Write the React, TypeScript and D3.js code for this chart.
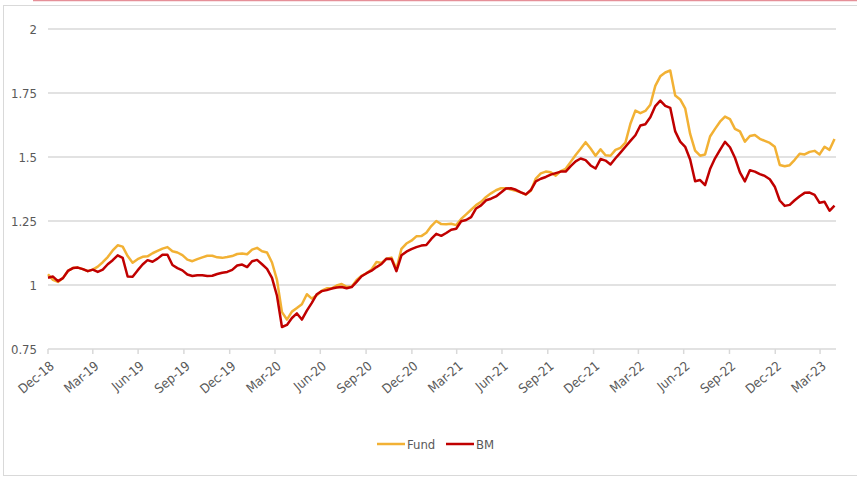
import React, { useEffect, useRef } from 'react';
import * as d3 from 'd3';

// fund vs benchmark, one reading every 10 days from 31 Dec 2018
const startDate = '2018-12-31';
const endDate = '2023-05-02';
const stepDays = 10;

const fund = [
  1.042, 1.02, 1.012, 1.027, 1.055, 1.066, 1.068, 1.062, 1.054, 1.06,
  1.072, 1.089, 1.109, 1.135, 1.155, 1.15, 1.113, 1.087, 1.101, 1.11,
  1.112, 1.124, 1.133, 1.142, 1.148, 1.132, 1.127, 1.117, 1.099, 1.093,
  1.101, 1.108, 1.114, 1.114, 1.108, 1.106, 1.109, 1.113, 1.121, 1.123,
  1.12, 1.138, 1.145, 1.132, 1.127, 1.088, 1.02, 0.894, 0.865, 0.896,
  0.91, 0.925, 0.964, 0.947, 0.96, 0.978, 0.987, 0.987, 0.998, 1.004,
  0.993, 0.993, 1.02, 1.036, 1.046, 1.061, 1.09, 1.086, 1.103, 1.107,
  1.062, 1.141, 1.162, 1.173, 1.19, 1.191, 1.204, 1.23, 1.25, 1.238,
  1.237, 1.239, 1.234, 1.258, 1.276, 1.294, 1.312, 1.325, 1.344, 1.358,
  1.37, 1.378, 1.378, 1.373, 1.368, 1.362, 1.353, 1.368, 1.416, 1.436,
  1.443, 1.44, 1.427, 1.445, 1.454, 1.481, 1.508, 1.532, 1.558, 1.533,
  1.505, 1.53, 1.507, 1.505, 1.528, 1.536, 1.556, 1.63, 1.681, 1.671,
  1.68, 1.704, 1.778, 1.815, 1.83, 1.838, 1.74, 1.725, 1.69, 1.59,
  1.525, 1.505, 1.51, 1.58, 1.61, 1.638, 1.658, 1.648, 1.61, 1.6,
  1.56, 1.582, 1.586, 1.571, 1.563, 1.555, 1.54, 1.469, 1.464, 1.468,
  1.489, 1.513, 1.51, 1.52, 1.524, 1.51, 1.54, 1.528, 1.57,
];

const bm = [
  1.028, 1.033, 1.015, 1.027, 1.055, 1.066, 1.068, 1.062, 1.054, 1.06,
  1.051, 1.06, 1.081, 1.097, 1.116, 1.106, 1.033, 1.032, 1.057, 1.08,
  1.097, 1.091, 1.103, 1.118, 1.118, 1.078, 1.066, 1.057, 1.041, 1.035,
  1.038, 1.038, 1.035, 1.036, 1.043, 1.048, 1.051, 1.059, 1.076, 1.08,
  1.07, 1.093, 1.098, 1.081, 1.063, 1.028, 0.958, 0.836, 0.844, 0.871,
  0.889, 0.865, 0.9, 0.93, 0.964, 0.976, 0.98, 0.986, 0.99, 0.992,
  0.987, 0.992, 1.012, 1.034, 1.046, 1.056, 1.07, 1.082, 1.103, 1.102,
  1.054, 1.116, 1.13, 1.14, 1.148, 1.154, 1.156, 1.18, 1.2, 1.192,
  1.203, 1.216, 1.22, 1.249, 1.254, 1.265, 1.299, 1.311, 1.331, 1.337,
  1.346, 1.361, 1.377, 1.378, 1.372, 1.362, 1.354, 1.371, 1.405, 1.415,
  1.422, 1.431, 1.437, 1.443, 1.443, 1.464, 1.483, 1.494, 1.488, 1.467,
  1.455, 1.492, 1.486, 1.471, 1.495, 1.517, 1.54, 1.563, 1.585, 1.623,
  1.628, 1.655, 1.699, 1.72, 1.7, 1.692, 1.6, 1.56, 1.54, 1.49,
  1.405, 1.41, 1.39, 1.453, 1.495, 1.528, 1.559, 1.538, 1.497, 1.44,
  1.405, 1.448, 1.443, 1.433, 1.426, 1.413, 1.384, 1.33, 1.309, 1.313,
  1.331, 1.347, 1.36, 1.361, 1.352, 1.321, 1.325, 1.29, 1.31,
];

const yTicks = [0.75, 1, 1.25, 1.5, 1.75, 2];
const xTickDates = [
  '2018-12-31', '2019-03-31', '2019-06-30', '2019-09-30', '2019-12-31',
  '2020-03-31', '2020-06-30', '2020-09-30', '2020-12-31', '2021-03-31',
  '2021-06-30', '2021-09-30', '2021-12-31', '2022-03-31', '2022-06-30',
  '2022-09-30', '2022-12-31', '2023-03-31',
];

const seriesList = [
  { name: 'Fund', values: fund, color: '#F2B134' },
  { name: 'BM', values: bm, color: '#C00000' },
];

const App = () => {
  const ref = useRef<SVGSVGElement>(null);

  useEffect(() => {
    const width = 857;
    const height = 477;
    const margin = { top: 29, right: 21, bottom: 128, left: 48 };
    const font = '"Liberation Sans Narrow", "DejaVu Sans Condensed", sans-serif';
    const textColor = '#595959';
    const gridColor = '#d9d9d9';

    const parse = d3.utcParse('%Y-%m-%d');
    const start = parse(startDate) as Date;
    const dates = fund.map((_, i) => d3.utcDay.offset(start, i * stepDays));

    const x = d3.scaleUtc()
      .domain([start, parse(endDate) as Date])
      .range([margin.left, width - margin.right]);
    const y = d3.scaleLinear()
      .domain([0.75, 2])
      .range([height - margin.bottom, margin.top]);

    const svg = d3.select(ref.current);
    svg.selectAll('*').remove();

    // frame
    svg.append('rect')
      .attr('x', 3.5).attr('y', 5.5)
      .attr('width', 870).attr('height', 470)
      .attr('fill', 'white')
      .attr('stroke', gridColor);
    svg.append('line')
      .attr('x1', 33).attr('x2', width)
      .attr('y1', 0.5).attr('y2', 0.5)
      .attr('stroke', '#e58f98').attr('stroke-width', 1.5);

    // gridlines
    svg.append('g')
      .selectAll('line')
      .data(yTicks)
      .join('line')
      .attr('x1', margin.left)
      .attr('x2', width - margin.right)
      .attr('y1', d => y(d))
      .attr('y2', d => y(d))
      .attr('stroke', gridColor)
      .attr('stroke-width', 1.5);

    // y labels
    svg.append('g')
      .selectAll('text')
      .data(yTicks)
      .join('text')
      .attr('x', 37)
      .attr('y', d => y(d))
      .attr('dy', '0.35em')
      .attr('text-anchor', 'end')
      .attr('font-family', font)
      .attr('font-size', 13)
      .attr('fill', textColor)
      .text(d => String(d));

    // x ticks + labels
    const xTicks = xTickDates.map(s => parse(s) as Date);
    const fmt = d3.utcFormat('%b-%y');
    const axisY = y(0.75);
    svg.append('g')
      .selectAll('line')
      .data(xTicks)
      .join('line')
      .attr('x1', d => x(d))
      .attr('x2', d => x(d))
      .attr('y1', axisY)
      .attr('y2', axisY + 5)
      .attr('stroke', gridColor)
      .attr('stroke-width', 1.5);

    svg.append('g')
      .selectAll('text')
      .data(xTicks)
      .join('text')
      .attr('transform', d => `translate(${x(d) + 4},${axisY + 15}) rotate(-40)`)
      .attr('text-anchor', 'end')
      .attr('dy', '0.35em')
      .attr('font-family', font)
      .attr('font-size', 13)
      .attr('fill', textColor)
      .text(d => fmt(d));

    // lines
    const line = d3.line<number>()
      .x((_, i) => x(dates[i]))
      .y(d => y(d));

    seriesList.forEach(s => {
      svg.append('path')
        .datum(s.values)
        .attr('d', line)
        .attr('fill', 'none')
        .attr('stroke', s.color)
        .attr('stroke-width', 2.5)
        .attr('stroke-linejoin', 'round');
    });

    // legend
    const legend = svg.append('g').attr('transform', 'translate(377,444)');
    const offsets = [0, 69];
    seriesList.forEach((s, i) => {
      const g = legend.append('g').attr('transform', `translate(${offsets[i]},0)`);
      g.append('line')
        .attr('x1', 0).attr('x2', 28)
        .attr('stroke', s.color).attr('stroke-width', 2.5);
      g.append('text')
        .attr('x', 30)
        .attr('dy', '0.35em')
        .attr('font-family', font)
        .attr('font-size', 13)
        .attr('fill', textColor)
        .text(s.name);
    });
  }, []);

  return (
    <svg
      ref={ref}
      width={857}
      height={477}
      style={{ position: 'absolute', left: 0, top: 0 }}
    />
  );
};

export default App;
